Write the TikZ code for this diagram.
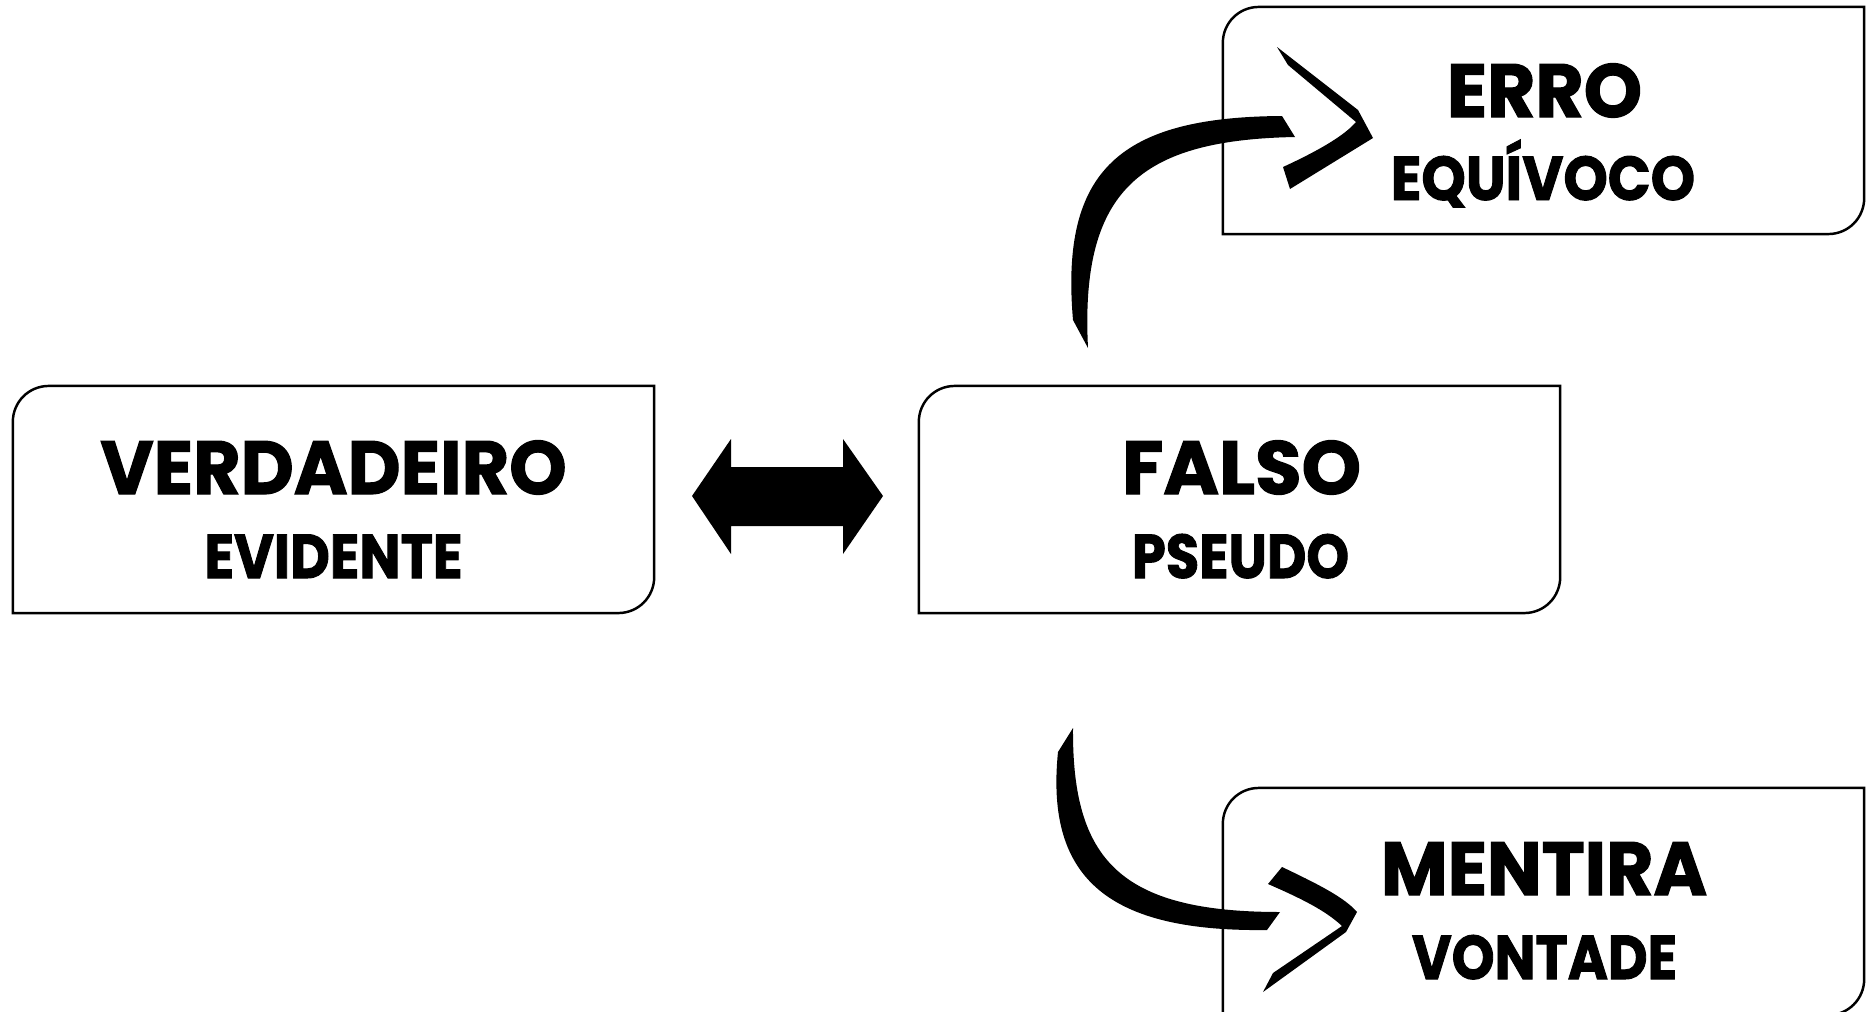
\documentclass[tikz,border=0pt]{standalone}
\usepackage{fontspec}
\setmainfont{Poppins}[BoldFeatures={FakeBold=1.6}]
\usetikzlibrary{calc}

% horizontally fit a text to a given ink width (in px units of the picture)
\newsavebox\fitbox
\newcommand\fitw[2]{\sbox\fitbox{#2}\pgfmathsetmacro\fitratio{#1*0.28453/\wd\fitbox}\scalebox{\fitratio}[1]{\usebox\fitbox}}

\tikzset{
  card/.style={minimum width=6.41cm, minimum height=2.27cm, inner sep=0pt, outer sep=0pt},
  cardline/.style={draw=black, line width=0.7pt},
  title/.style={anchor=base, inner sep=0pt, font=\bfseries\fontsize{21.4}{24}\selectfont},
  subtitle/.style={anchor=base, inner sep=0pt, font=\bfseries\fontsize{17.6}{20}\selectfont},
  solid arrow/.style={fill=black, draw=none},
}

% border with rounded top-left and bottom-right corners
\newcommand\cardborder[1]{%
  \draw[cardline] (#1.south west) -- ($(#1.north west)+(0,36)$)
    .. controls +(0,-20) and +(-20,0) .. ($(#1.north west)+(36,0)$)
    -- (#1.north east) -- ($(#1.south east)+(0,-36)$)
    .. controls +(0,20) and +(20,0) .. ($(#1.south east)+(-36,0)$)
    -- cycle;}

\begin{document}
\begin{tikzpicture}[x=0.01cm, y=-0.01cm]
\useasboundingbox (0,0) rectangle (1872,1012);

% cards
\node[card] (ver) at (333.5,499.5) {};
\node[card] (fal) at (1239.5,499.5) {};
\node[card] (err) at (1543.5,120.5) {};
\node[card] (men) at (1543.5,901.5) {};
\cardborder{ver}
\cardborder{fal}
\cardborder{err}
\cardborder{men}

% labels
\node[title]    (verT) at (333.5,494) {\fitw{466}{VERDADEIRO}};
\node[subtitle] (verS) at (333.5,578) {\fitw{258}{EVIDENTE}};
\node[title]    (falT) at (1241.5,494) {\fitw{239}{FALSO}};
\node[subtitle] (falS) at (1240.5,578) {\fitw{217}{PSEUDO}};
\node[title]    (errT) at (1544.5,117) {\fitw{195}{ERRO}};
\node[subtitle] (errS) at (1543,200) {\fitw{304}{EQUÍVOCO}};
\node[title]    (menT) at (1544,895) {\fitw{326}{MENTIRA}};
\node[subtitle] (menS) at (1544.5,979) {\fitw{265}{VONTADE}};

% double arrow between VERDADEIRO and FALSO
\fill[solid arrow] (692,496) -- (731,439) -- (731,467) -- (843,467) -- (843,439)
  -- (883,496) -- (843,554) -- (843,526) -- (731,526) -- (731,554) -- cycle;

% curved arrow up to ERRO
\fill[solid arrow] (1073,320) .. controls (1060,170) and (1120,117) .. (1282,116)
  -- (1295,137) .. controls (1140,140) and (1080,190) .. (1088,348) -- cycle;
\fill[solid arrow] (1277,47) -- (1358,110) -- (1373,138) -- (1290,189)
  -- (1283,167) .. controls (1320,150) and (1345,135) .. (1356,122) -- (1288,65) -- cycle;

% curved arrow down to MENTIRA
\fill[solid arrow] (1058,752) .. controls (1045,880) and (1110,932) .. (1267,930)
  -- (1280,912) .. controls (1120,912) and (1072,860) .. (1073,728) -- cycle;
\fill[solid arrow] (1282,867) .. controls (1320,885) and (1345,898) .. (1357,912)
  -- (1346,932) -- (1263,992) -- (1273,973) -- (1342,926)
  .. controls (1325,910) and (1300,898) .. (1268,884) -- cycle;
\end{tikzpicture}
\end{document}
